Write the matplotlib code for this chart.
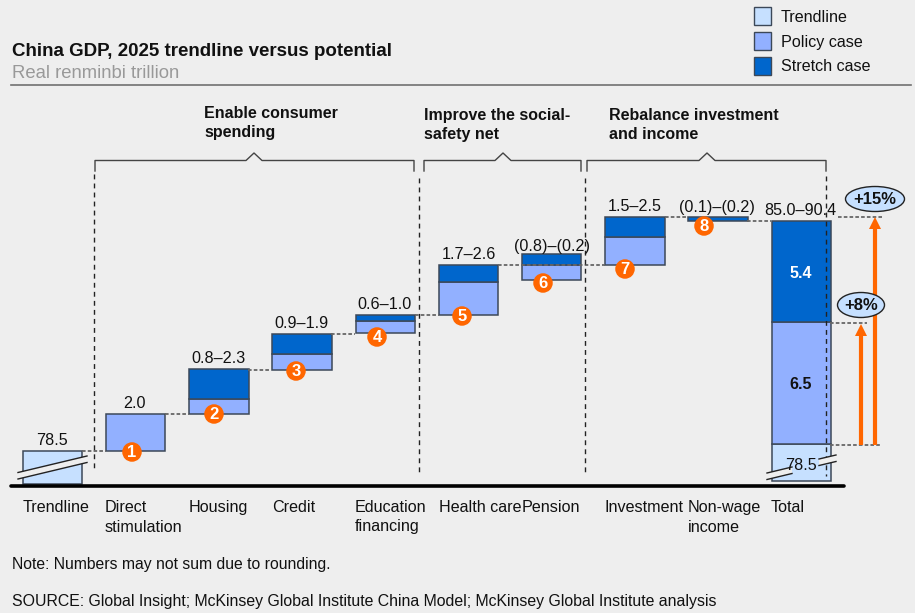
import matplotlib
matplotlib.use("Agg")
import matplotlib.pyplot as plt
from matplotlib.patches import Ellipse, Polygon, Rectangle

plt.rcParams['font.family'] = ['Liberation Sans', 'DejaVu Sans']

# waterfall levels, real renminbi trillion
categories = ["Trendline", "Direct\nstimulation", "Housing", "Credit", "Education\nfinancing",
              "Health care", "Pension", "Investment", "Non-wage\nincome", "Total"]
range_labels = ["78.5", "2.0", "0.8–2.3", "0.9–1.9", "0.6–1.0", "1.7–2.6",
                "(0.8)–(0.2)", "1.5–2.5", "(0.1)–(0.2)", "85.0–90.4"]
policy_low = [78.50, 80.50, 82.82, 84.79, 85.75, 87.62, 88.42]
policy_high = [80.50, 81.27, 83.67, 85.43, 87.51, 88.42, 89.91]
stretch_low = [None, 81.27, 83.67, 85.43, 87.51, 88.42, 89.91]
stretch_high = [None, 82.87, 84.74, 85.75, 88.42, 89.00, 90.98]
nonwage_low, nonwage_high = 90.77, 90.98
trend_value = 78.5
axis_floor = 76.74
total_top = 90.77
total_stretch = 5.4
total_policy = 6.5
total_floor = 76.90

BG = "#eeeeee"
TREND = "#c6e0ff"
POLICY = "#92b0ff"
STRETCH = "#0066cc"
EDGE = "#3c4858"
ORANGE = "#ff6600"
TXT = "#111111"

fig = plt.figure(figsize=(9.15, 6.13), dpi=100, facecolor=BG)

# bars live in value space: category i -> 52.5+83.2*i px, value v -> 451-(v-78.5)*18.75 px
ax = fig.add_axes([0, 0, 1, 1])
ax.set_xlim(-52.5 / 83.2, (915 - 52.5) / 83.2)
ax.set_ylim(78.5 + (451 - 613) / 18.75, 78.5 + 451 / 18.75)
ax.axis("off")

# overlay in pixel coordinates for the annotations
ov = fig.add_axes([0, 0, 1, 1], zorder=3)
ov.set_xlim(0, 915)
ov.set_ylim(613, 0)
ov.axis("off")
ov.patch.set_alpha(0)

w = 59.5 / 83.2
bar_kw = dict(width=w, edgecolor=EDGE, linewidth=1.1)

ax.bar(0, trend_value - axis_floor, bottom=axis_floor, color=TREND, **bar_kw)
for i in range(7):
    x = i + 1
    ax.bar(x, policy_high[i] - policy_low[i], bottom=policy_low[i], color=POLICY, **bar_kw)
    if stretch_low[i] is not None:
        ax.bar(x, stretch_high[i] - stretch_low[i], bottom=stretch_low[i], color=STRETCH, **bar_kw)
ax.bar(8, nonwage_high - nonwage_low, bottom=nonwage_low, color=STRETCH, **bar_kw)

policy_base = total_top - total_stretch - total_policy
ax.bar(9, policy_base - total_floor, bottom=total_floor, color=TREND, **bar_kw)
ax.bar(9, total_policy, bottom=policy_base, color=POLICY, **bar_kw)
ax.bar(9, total_stretch, bottom=total_top - total_stretch, color=STRETCH, **bar_kw)

# connectors between the bars
dots = dict(color="#666666", lw=1.3, ls=(0, (2, 1.2)), zorder=1)
for x0, x1, y in [(82, 106, 451), (165, 189, 414), (248, 271, 370), (331, 355, 334),
                  (415, 439, 315), (498, 605, 265), (665, 688, 217), (747, 771, 221)]:
    ov.plot([x0, x1], [y, y], **dots)
for x0, x1, y in [(838, 882, 217), (830, 867, 323), (830, 881, 445)]:
    ov.plot([x0, x1], [y, y], **dots)

# section dividers
dash = dict(color="#222222", lw=1, ls=(0, (3.5, 3)))
for x, y0, y1 in [(94, 174, 469), (419, 178, 474), (585, 178, 472), (826, 176, 476)]:
    ov.plot([x, x], [y0, y1], **dash)

# baseline and header rule
ov.plot([11, 844], [486, 486], color="black", lw=2.6, solid_capstyle="round", zorder=5)
ov.plot([11, 911], [84.5, 84.5], color="#707070", lw=1.2)

# brackets
for x0, x1, peak in [(95, 414, 254), (424, 581, 503), (587, 826, 707)]:
    ov.plot([x0, x0, peak - 8, peak, peak + 8, x1, x1], [171, 160.5, 160.5, 153, 160.5, 160.5, 171],
            color="#444444", lw=1)

# axis breaks
def axis_break(xa, ya, xb, yb, gap=6.5):
    ov.add_patch(Polygon([(xa, ya), (xb, yb), (xb, yb + gap), (xa, ya + gap)], fc=BG, ec="none", zorder=2))
    ov.plot([xa, xb], [ya, yb], color="#222222", lw=1, zorder=2)
    ov.plot([xa, xb], [ya + gap, yb + gap], color="#222222", lw=1, zorder=2)

axis_break(18, 472.5, 87, 456)
axis_break(767, 473, 792, 467)
axis_break(819, 459, 836, 455)

# labels above and inside bars
label_x = [52, 135, 218, 301, 385, 469, 552, 635, 717, 800]
label_y = [445, 408, 363, 328, 309, 259, 251, 211, 212, 215]
for x, y, lab in zip(label_x, label_y, range_labels):
    ov.text(x, y, lab, ha="center", va="baseline", fontsize=11.6, color=TXT)
ov.text(801, 278, "5.4", ha="center", va="baseline", fontsize=11.6, color="white", fontweight="bold")
ov.text(801, 389, "6.5", ha="center", va="baseline", fontsize=11.6, color=TXT, fontweight="bold")
ov.text(801, 470, "78.5", ha="center", va="baseline", fontsize=11.6, color=TXT)

# numbered badges
for n, (x, y) in enumerate([(132, 452), (214, 414), (296, 371), (377, 337),
                            (462, 316), (543, 283), (625, 269), (704, 226)], start=1):
    ov.add_patch(Ellipse((x, y), 19.5, 19.5, fc=ORANGE, ec="none", zorder=6))
    ov.text(x, y + 0.5, str(n), ha="center", va="center", fontsize=12, color="white",
            fontweight="bold", zorder=7)

# growth arrows
for x, tip in [(861, 324), (875, 217)]:
    ov.plot([x, x], [445, tip + 10], color=ORANGE, lw=3, solid_capstyle="butt", zorder=4)
    ov.add_patch(Polygon([(x, tip), (x - 6, tip + 12), (x + 6, tip + 12)], fc=ORANGE, ec="none", zorder=4))

for (x, y), width, lab in [((875, 199), 59, "+15%"), ((861, 305), 47, "+8%")]:
    ov.add_patch(Ellipse((x, y), width, 25, fc=TREND, ec="#222222", lw=1, zorder=6))
    ov.text(x, y, lab, ha="center", va="center", fontsize=12, fontweight="bold", color=TXT, zorder=7)

# category labels
cat_x = [23, 105, 189, 272, 355, 439, 522, 605, 688, 771]
for x, lab in zip(cat_x, categories):
    line1, _, line2 = lab.partition("\n")
    ov.text(x, 512, line1, ha="left", va="baseline", fontsize=11.6, color=TXT)
    if line2:
        ov.text(x, 531.5, line2, ha="left", va="baseline", fontsize=11.6, color=TXT)

# group headings
for x, y, lab in [(204, 118, "Enable consumer"), (204, 137, "spending"),
                  (424, 120, "Improve the social-"), (424, 139, "safety net"),
                  (609, 120, "Rebalance investment"), (609, 139, "and income")]:
    ov.text(x, y, lab, ha="left", va="baseline", fontsize=11.5, fontweight="bold", color=TXT)

# title block
ov.text(12, 56, "China GDP, 2025 trendline versus potential", ha="left", va="baseline",
        fontsize=13.5, fontweight="bold", color=TXT)
ov.text(12, 78.5, "Real renminbi trillion", ha="left", va="baseline", fontsize=13.3, color="#999999")

# legend
for y, yt, col, lab in [(7, 21.7, TREND, "Trendline"), (32, 46.7, POLICY, "Policy case"), (57, 70.7, STRETCH, "Stretch case")]:
    ov.add_patch(Rectangle((753.5, y), 17.5, 17.5, fc=col, ec=EDGE, lw=1))
    ov.text(781, yt, lab, ha="left", va="baseline", fontsize=11.6, color=TXT)

# footnotes
ov.text(12, 569, "Note: Numbers may not sum due to rounding.", ha="left", va="baseline", fontsize=11.35, color=TXT)
ov.text(12, 606, "SOURCE: Global Insight; McKinsey Global Institute China Model; McKinsey Global Institute analysis",
        ha="left", va="baseline", fontsize=11.4, color=TXT)

fig.savefig("out.png", dpi=100, facecolor=BG)
